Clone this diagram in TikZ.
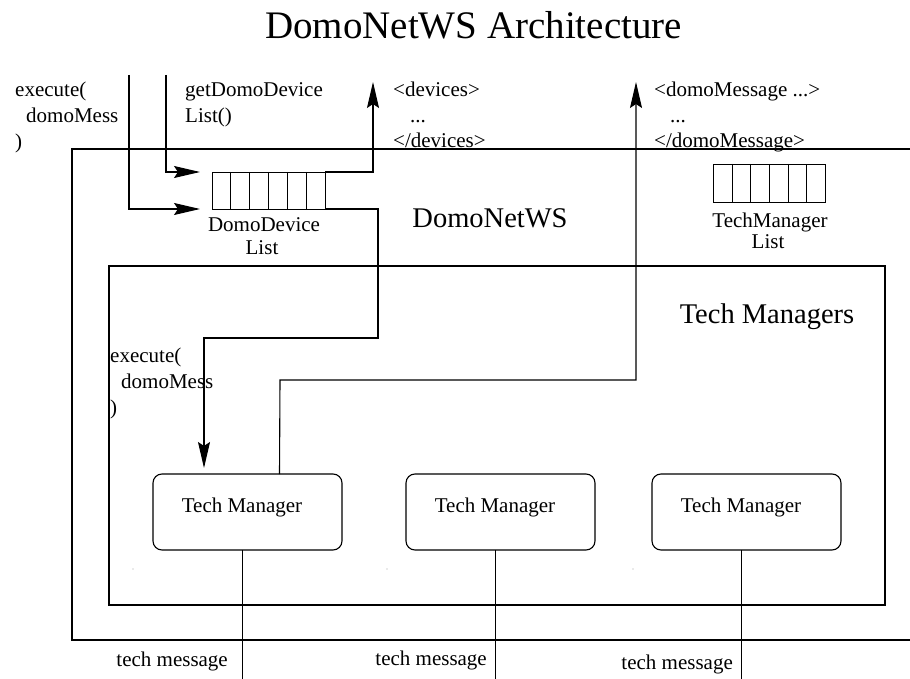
\documentclass[tikz,border=0pt]{standalone}
\usepackage{fontspec}
\setmainfont{Liberation Serif}
\usetikzlibrary{arrows.meta,calc}
\begin{document}
\begin{tikzpicture}[x=1pt,y=-1pt,
  ln/.style={line width=1.1pt},
  thin line/.style={line width=0.9pt},
  arr/.style={ln,-{Stealth[length=26pt,width=12pt,inset=4pt]}},
  sm/.style={font=\fontsize{21}{25}\selectfont,inner sep=0pt,anchor=base west},
  smc/.style={font=\fontsize{21}{25}\selectfont,inner sep=0pt,anchor=base},
  smr/.style={font=\fontsize{21}{25}\selectfont,inner sep=0pt,anchor=base east},
  big/.style={font=\fontsize{28.5}{32}\selectfont,inner sep=0pt,anchor=base},
  queuebox/.style={draw,thin line,inner sep=0pt,outer sep=0pt},
  tmbox/.style={draw,ln,rounded corners=9pt,minimum width=189pt,minimum height=76pt,inner sep=0pt,outer sep=0pt},
  dot/.style={fill=black!35,circle,inner sep=0pt,minimum size=1.3pt}
]
\clip (0,0) rectangle (910,679);
\fill[white] (0,0) rectangle (910,679);

% title
\node[font=\fontsize{39}{44}\selectfont,inner sep=0pt,anchor=base] (title) at (473.5,39) {DomoNetWS Architecture};

% outer and inner boxes
\node[draw,ln,inner sep=0pt,outer sep=0pt,minimum width=880pt,minimum height=491pt,anchor=north west] (ws) at (72,149) {};
\node[draw,ln,inner sep=0pt,outer sep=0pt,minimum width=776pt,minimum height=339pt,anchor=north west] (tms) at (109,266) {};
\node[big] (wslabel) at (490,228) {DomoNetWS};
\node[big] (tmslabel) at (767,323) {Tech Managers};

% queues
\node[queuebox,minimum width=113pt,minimum height=37pt] (ddl) at (268.5,190.5) {};
\foreach \i in {1,...,5}
  \draw[thin line] ($(ddl.north west)!\i/6!(ddl.north east)$) -- ($(ddl.south west)!\i/6!(ddl.south east)$);
\node[smc] (ddl1) at (264,232) {DomoDevice};
\node[smc] (ddl2) at (262,254) {List};

\node[queuebox,minimum width=112pt,minimum height=38pt] (tml) at (769.5,183) {};
\foreach \i in {1,...,5}
  \draw[thin line] ($(tml.north west)!\i/6!(tml.north east)$) -- ($(tml.south west)!\i/6!(tml.south east)$);
\node[smc] (tml1) at (770,227) {TechManager};
\node[smc] (tml2) at (768,248) {List};

% tech manager boxes
\node[tmbox] (tm1) at (247.5,512) {};
\node[tmbox] (tm2) at (500.5,512) {};
\node[tmbox] (tm3) at (746.5,512) {};
\node[smc] (tm1t) at (242,512) {Tech Manager};
\node[smc] (tm2t) at (495,512) {Tech Manager};
\node[smc] (tm3t) at (741,512) {Tech Manager};

% faint dots
\node[dot] (d1) at (133,569) {};
\node[dot] (d2) at (387,569) {};
\node[dot] (d3) at (633,569) {};

% top texts
\node[sm] (ex1a) at (15,97) {execute(};
\node[sm] (ex1b) at (26,123) {domoMess};
\node[sm] (ex1c) at (15,149) {)};
\node[sm] (gd1) at (185,97) {getDomoDevice};
\node[sm] (gd2) at (185,123) {List()};
\node[sm] (dv1) at (393,97) {<devices>};
\node[sm] (dv2) at (410,123) {...};
\node[sm] (dv3) at (393,148) {</devices>};
\node[sm] (dm1) at (654,97) {<domoMessage ...>};
\node[sm] (dm2) at (670,123) {...};
\node[sm] (dm3) at (654,148) {</domoMessage>};
\node[sm] (ex2a) at (110,362) {execute(};
\node[sm] (ex2b) at (121,388) {domoMess};
\node[sm] (ex2c) at (110,414) {)};

% free ends
\coordinate (in1) at (129,75);
\coordinate (in2) at (166,75);
\coordinate (out1) at (373,82);
\coordinate (out2) at (636,82);

% connectors
\draw[arr] (in1) |- ([xshift=-12pt]ddl.south west);
\draw[arr] (in2) |- ([xshift=-12pt]ddl.north west);
\draw[arr] (ddl.north east) -| (out1);
\draw[arr,shorten >=6pt] (ddl.south east) -- (378,209) -- (378,338) -- (204,338) -- (204,474);
\draw[arr] ([xshift=126.5pt]tm1.north west) -- (280,380) -- (636,380) -- (out2);

% lines out of the tech managers
\draw[thin line] ([xshift=-5.5pt]tm1.south) -- ++(0,140);
\draw[thin line] ([xshift=-5.5pt]tm2.south) -- ++(0,140);
\draw[thin line] ([xshift=-5.5pt]tm3.south) -- ++(0,140);

% bottom labels
\node[smr] (m1) at (228,666) {tech message};
\node[smr] (m2) at (487,665) {tech message};
\node[smr] (m3) at (733,669) {tech message};
\end{tikzpicture}
\end{document}
